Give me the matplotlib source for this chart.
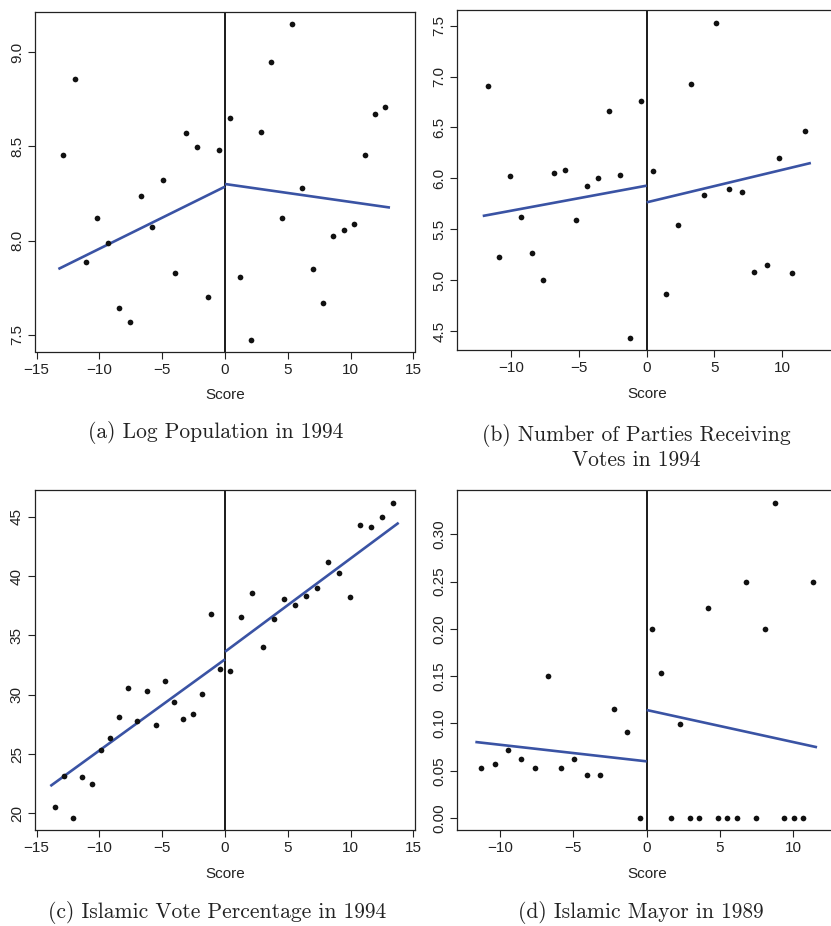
import matplotlib
matplotlib.use("Agg")
import matplotlib.pyplot as plt
import numpy as np

plt.rcParams['font.family'] = ['Liberation Sans', 'DejaVu Sans']

# ---------------- data ----------------
# (a) Log Population in 1994
a_x = [-12.87, -11.97, -11.10, -10.22, -9.34, -8.44, -7.54, -6.66, -5.79, -4.91,
       -4.01, -3.13, -2.23, -1.35, -0.48,
       0.40, 1.22, 2.04, 2.87, 3.69, 4.51, 5.34, 6.16, 6.98, 7.80, 8.63, 9.48,
       10.30, 11.12, 11.95, 12.77]
a_y = [8.455, 8.857, 7.888, 8.122, 7.987, 7.642, 7.566, 8.237, 8.072, 8.320,
       7.828, 8.573, 8.494, 7.700, 8.483,
       8.649, 7.808, 7.472, 8.577, 8.945, 8.120, 9.147, 8.279, 7.847, 7.670, 8.026, 8.056,
       8.090, 8.456, 8.674, 8.706]
a_fit_left_x = [-13.27, 0.0]
a_fit_left_y = [7.849, 8.286]
a_fit_right_x = [0.0, 13.14]
a_fit_right_y = [8.300, 8.175]

# (b) Number of Parties Receiving Votes in 1994
b_x = [-11.70, -10.91, -10.10, -9.29, -8.47, -7.66, -6.85, -6.06, -5.25, -4.43,
       -3.62, -2.81, -2.00, -1.21, -0.39,
       0.49, 1.43, 2.34, 3.28, 4.21, 5.15, 6.08, 7.02, 7.96, 8.89, 9.80, 10.74, 11.67]
b_y = [6.907, 5.230, 6.026, 5.623, 5.269, 5.001, 6.049, 6.082, 5.590, 5.928,
       6.000, 6.665, 6.036, 4.434, 6.763,
       6.072, 4.863, 5.545, 6.927, 5.833, 7.529, 5.898, 5.866, 5.076, 5.152, 6.200, 5.073, 6.462]
b_fit_left_x = [-12.12, 0.0]
b_fit_left_y = [5.630, 5.928]
b_fit_right_x = [0.0, 12.14]
b_fit_right_y = [5.764, 6.151]

# (c) Islamic Vote Percentage in 1994
c_x = [-13.57, -12.82, -12.11, -11.36, -10.62, -9.90, -9.16, -8.44, -7.70, -6.98,
       -6.24, -5.52, -4.78, -4.06, -3.32, -2.58, -1.86, -1.11, -0.40,
       0.42, 1.27, 2.15, 3.00, 3.88, 4.73, 5.60, 6.48, 7.33, 8.20, 9.05, 9.93,
       10.78, 11.65, 12.50, 13.38]
c_y = [20.53, 23.17, 19.61, 23.06, 22.47, 25.31, 26.35, 28.15, 30.59, 27.75,
       30.34, 27.42, 31.15, 29.35, 27.92, 28.40, 30.06, 36.80, 32.19,
       31.97, 36.52, 38.54, 33.99, 36.38, 38.09, 37.53, 38.29, 39.02, 41.18, 40.28, 38.20,
       44.30, 44.13, 45.00, 46.15]
c_fit_left_x = [-13.91, 0.0]
c_fit_left_y = [22.30, 32.98]
c_fit_right_x = [0.0, 13.83]
c_fit_right_y = [33.62, 44.49]

# (d) Islamic Mayor in 1989
d_x = [-11.27, -10.36, -9.45, -8.55, -7.64, -6.75, -5.84, -4.95, -4.05, -3.16,
       -2.25, -1.34, -0.45,
       0.34, 0.98, 1.64, 2.27, 2.93, 3.57, 4.20, 4.86, 5.50, 6.14, 6.80, 7.43,
       8.09, 8.73, 9.36, 10.02, 10.66, 11.32]
d_y = [0.0525, 0.0571, 0.0716, 0.0624, 0.0525, 0.1499, 0.0525, 0.0624, 0.0451, 0.0451,
       0.1153, 0.0906, 0.0,
       0.200, 0.1537, 0.0, 0.0998, 0.0, 0.0, 0.2221, 0.0, 0.0, 0.0, 0.250, 0.0,
       0.200, 0.3332, 0.0, 0.0, 0.0, 0.250]
d_fit_left_x = [-11.68, 0.0]
d_fit_left_y = [0.0804, 0.0599]
d_fit_right_x = [0.0, 11.61]
d_fit_right_y = [0.1142, 0.0748]

captions = ["(a) Log Population in 1994",
            "(b) Number of Parties Receiving\nVotes in 1994",
            "(c) Islamic Vote Percentage in 1994",
            "(d) Islamic Mayor in 1989"]

# ---------------- figure ----------------
W, H = 831, 926
fig = plt.figure(figsize=(W / 100, H / 100), dpi=100)
BLUE = "#3A53A4"


def rect(l, t, r, b):
    return [l / W, 1 - b / H, (r - l) / W, (b - t) / H]


def panel(pos, x, y, flx, fly, frx, fry, xlim, ylim, xticks, yticks, yfmt):
    ax = fig.add_axes(rect(*pos))
    ax.axvline(0, color="#1a1a1a", lw=1.4, zorder=2)
    ax.plot(flx, fly, color=BLUE, lw=1.9, zorder=3, solid_capstyle="butt")
    ax.plot(frx, fry, color=BLUE, lw=1.9, zorder=3, solid_capstyle="butt")
    ax.plot(x, y, "o", color="#111111", ms=4.1, mew=0, zorder=4)
    ax.set_xlim(*xlim)
    ax.set_ylim(*ylim)
    ax.set_xticks(xticks)
    ax.set_yticks(yticks)
    ax.set_yticklabels([yfmt.format(v) for v in yticks], rotation=90, va="center")
    ax.tick_params(axis="both", direction="out", length=5, width=0.8,
                   labelsize=11, color="#222222", labelcolor="#222222")
    ax.tick_params(axis="x", pad=3)
    ax.tick_params(axis="y", pad=3)
    for s in ax.spines.values():
        s.set_linewidth(0.9)
        s.set_color("#222222")
    ax.set_xlabel("Score", fontsize=11, color="#222222", labelpad=8.5)
    return ax


panel((35, 12, 415, 351.5), a_x, a_y, a_fit_left_x, a_fit_left_y, a_fit_right_x, a_fit_right_y,
      (-15.13, 15.13), (7.4115, 9.2125), [-15, -10, -5, 0, 5, 10, 15],
      [7.5, 8.0, 8.5, 9.0], "{:.1f}")
panel((457.3, 10, 837, 350), b_x, b_y, b_fit_left_x, b_fit_left_y, b_fit_right_x, b_fit_right_y,
      (-14.0, 14.07), (4.313, 7.654), [-10, -5, 0, 5, 10],
      [4.5, 5.0, 5.5, 6.0, 6.5, 7.0, 7.5], "{:.1f}")
panel((35, 490, 415, 830), c_x, c_y, c_fit_left_x, c_fit_left_y, c_fit_right_x, c_fit_right_y,
      (-15.13, 15.13), (18.6, 47.25), [-15, -10, -5, 0, 5, 10, 15],
      [20, 25, 30, 35, 40, 45], "{:d}")
panel((457.3, 490, 837, 830), d_x, d_y, d_fit_left_x, d_fit_left_y, d_fit_right_x, d_fit_right_y,
      (-12.91, 12.97), (-0.0127, 0.3469), [-10, -5, 0, 5, 10],
      [0.0, 0.05, 0.10, 0.15, 0.20, 0.25, 0.30], "{:.2f}")

cap_kw = dict(family="cmr10", fontsize=15.5, color="#222222", ha="center", va="center",
              linespacing=1.25)
fig.text(216 / W, 1 - 433 / H, captions[0], **cap_kw)
fig.text(636 / W, 1 - 447 / H, captions[1], **cap_kw)
fig.text(217 / W, 1 - 913 / H, captions[2], **cap_kw)
fig.text(641 / W, 1 - 913 / H, captions[3], **cap_kw)

fig.savefig("out.png", dpi=100)
